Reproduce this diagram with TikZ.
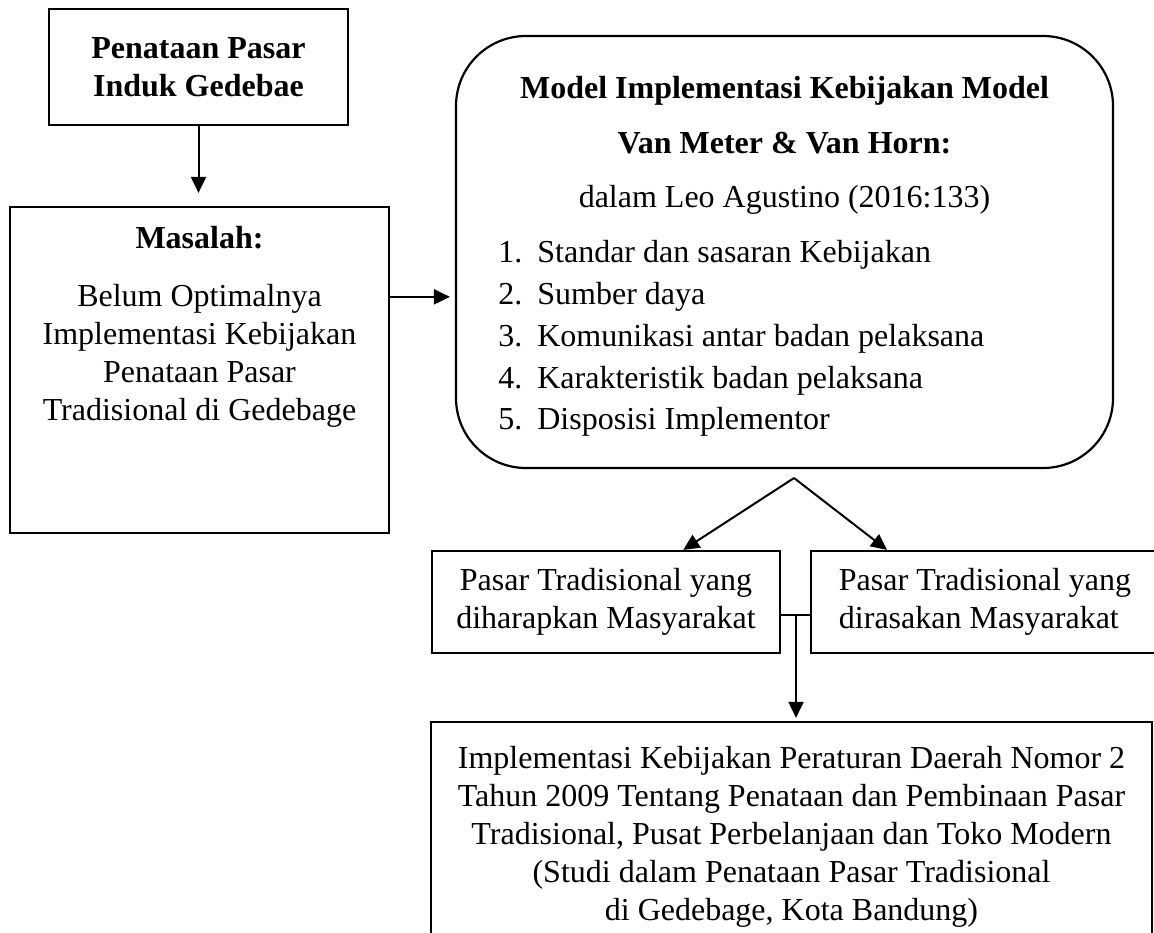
\documentclass[tikz,border=0pt]{standalone}
\usepackage{fontspec}
\setmainfont{Liberation Serif}
\usetikzlibrary{arrows.meta}

\tikzset{
  kotak/.style={draw, line width=1.1pt, align=center, inner sep=0pt, font=\fontsize{16}{19}\selectfont},
  teks/.style={align=center, inner sep=0pt, font=\fontsize{16}{19}\selectfont},
  butir/.style={anchor=base west, inner sep=0pt, font=\fontsize{16}{19}\selectfont},
  panah/.style={line width=1pt, -{Triangle[length=8pt,width=7.5pt]}},
}

\begin{document}
\begin{tikzpicture}[x=0.5pt,y=-0.5pt]
\useasboundingbox (0,0) rectangle (1154,932);
\clip (0,0) rectangle (1154,932);
\fill[white] (0,0) rectangle (1154,932);

% kotak kiri
\node[kotak, minimum width=149.5pt, minimum height=58pt] (pasar) at (198.5,67) {\textbf{Penataan Pasar}\\\textbf{Induk Gedebae}};
\node[kotak, minimum width=189.5pt, minimum height=163pt] (masalah) at (199.5,370) {};
\node[teks] (masalahisi) at (199.5,327) {\textbf{Masalah:}\\[10pt]Belum Optimalnya\\Implementasi Kebijakan\\Penataan Pasar\\Tradisional di Gedebage};

% kotak model
\node[kotak, rounded corners=35pt, minimum width=328.5pt, minimum height=216pt] (model) at (784.5,252) {};
\node[butir, anchor=base] (judul) at (784.5,98) {\bfseries Model Implementasi Kebijakan Model};
\node[butir, anchor=base] (penulis) at (784.5,153) {\bfseries Van Meter \& Van Horn:};
\node[butir, anchor=base] (sumber) at (784.5,207) {dalam Leo Agustino (2016:133)};
\foreach \i/\isi in {1/Standar dan sasaran Kebijakan, 2/Sumber daya, 3/Komunikasi antar badan pelaksana, 4/Karakteristik badan pelaksana, 5/Disposisi Implementor}
  \node[butir] (item\i) at (498,{221+41.75*\i}) {\makebox[19.5pt][l]{\i.}\isi};

% kotak bawah
\node[kotak, minimum width=174pt, minimum height=51pt] (diharapkan) at (606,602) {Pasar Tradisional yang\\diharapkan Masyarakat};
\node[kotak, align=left, minimum width=174pt, minimum height=51pt] (dirasakan) at (985,602) {Pasar Tradisional yang\\dirasakan Masyarakat};
\node[kotak, minimum width=360.5pt, minimum height=115pt] (peraturan) at (791.5,837) {Implementasi Kebijakan Peraturan Daerah Nomor 2\\Tahun 2009 Tentang Penataan dan Pembinaan Pasar\\Tradisional, Pusat Perbelanjaan dan Toko Modern\\(Studi dalam Penataan Pasar Tradisional\\di Gedebage, Kota Bandung)};

% panah
\draw[panah, shorten >=6.5pt] (pasar.south) -- (pasar.south |- masalah.north);
\draw[panah, shorten >=2.5pt] (masalah.east |- item2) -- (model.west |- item2);
\coordinate (puncak) at (794,478);
\draw[panah] (puncak) -- (diharapkan.34);
\draw[panah] (puncak) -- (dirasakan.152);
\coordinate (cabang) at (796,615);
\draw[line width=1pt] (cabang -| diharapkan.east) -- (cabang -| dirasakan.west);
\draw[panah, shorten >=1.5pt] (cabang) -- (cabang |- peraturan.north);

\end{tikzpicture}
\end{document}
